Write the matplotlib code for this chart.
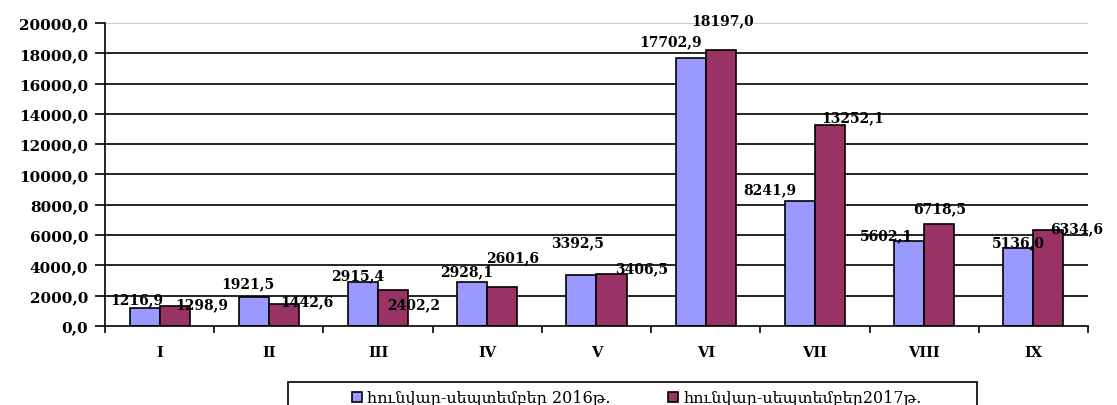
import numpy as np
import matplotlib
matplotlib.use('Agg')
import matplotlib.pyplot as plt
from matplotlib.ticker import FixedLocator, FuncFormatter
from matplotlib.patches import Rectangle

plt.rcParams['font.family'] = ['DejaVu Serif', 'DejaVu Sans']
plt.rcParams['font.weight'] = 'bold'
plt.rcParams['font.size'] = 10

# data
categories = ['I', 'II', 'III', 'IV', 'V', 'VI', 'VII', 'VIII', 'IX']
values_2016 = [1216.9, 1921.5, 2915.4, 2928.1, 3392.5, 17702.9, 8241.9, 5602.1, 5136.0]
values_2017 = [1298.9, 1442.6, 2402.2, 2601.6, 3406.5, 18197.0, 13252.1, 6718.5, 6334.6]
label_2016 = 'հունվար-սեպտեմբեր 2016թ.'
label_2017 = 'հունվար-սեպտեմբեր2017թ.'

# label offsets in pixels (as placed in the original chart)
offs_2016 = [(-8, 8), (-6, 14), (-5, 7), (-6, 10), (-4, 32), (-20, 17), (-30, 12), (-23, 6), (0, 6)]
offs_2017 = [(27, 2), (23, 3), (21, -15), (10, 29), (30, 6), (2, 30), (23, 8), (0, 16), (28, 2)]

blue = '#9999FF'
plum = '#993366'

fig = plt.figure(figsize=(11.17, 4.06), dpi=100)
ax = fig.add_axes([0.094, 0.1946, 0.880, 0.7464])

x = np.arange(len(categories))
w = 0.275
b1 = ax.bar(x - w / 2, values_2016, w, color=blue, edgecolor='black', linewidth=1.2, label=label_2016, zorder=3)
b2 = ax.bar(x + w / 2, values_2017, w, color=plum, edgecolor='black', linewidth=1.2, label=label_2017, zorder=3)

def fmt(v):
    return f'{v:.1f}'.replace('.', ',')

for xi, v, o in zip(x - w / 2, values_2016, offs_2016):
    ax.annotate(fmt(v), (xi, v), xytext=o, textcoords='offset pixels',
                ha='center', va='center', fontsize=10, zorder=5)
for xi, v, o in zip(x + w / 2, values_2017, offs_2017):
    ax.annotate(fmt(v), (xi, v), xytext=o, textcoords='offset pixels',
                ha='center', va='center', fontsize=10, zorder=5, annotation_clip=False)

ax.set_xlim(-0.5, len(categories) - 0.5)
ax.set_ylim(0, 20000)

# gridlines
for yv in range(2000, 20001, 2000):
    ax.axhline(yv, color='#C0C0C0' if yv == 20000 else 'black', linewidth=1.2, zorder=1)

ax.set_yticks(np.arange(0, 20001, 2000))
ax.yaxis.set_major_formatter(FuncFormatter(lambda v, p: fmt(v)))
ax.tick_params(axis='y', direction='out', length=7, width=1.2, labelsize=11, pad=5)

ax.set_xticks(x)
ax.set_xticklabels(categories)
ax.xaxis.set_minor_locator(FixedLocator(np.arange(-0.5, len(categories), 1.0)))
ax.tick_params(axis='x', which='major', length=0, pad=14, labelsize=10.5)
ax.tick_params(axis='x', which='minor', direction='out', length=5, width=1.2)

for s in ['top', 'right']:
    ax.spines[s].set_visible(False)
for s in ['left', 'bottom']:
    ax.spines[s].set_linewidth(1.2)
    ax.spines[s].set_zorder(4)

# legend box (runs past the bottom edge, as in the original)
W, H = 1117.0, 406.0
fig.patches.append(Rectangle((288 / W, -0.05), (977 - 288) / W, 0.05 + (406 - 383) / H,
                             transform=fig.transFigure, fill=False, edgecolor='black',
                             linewidth=1.2))
leg = fig.legend(handles=[b1, b2], loc='center left', ncol=2,
                 bbox_to_anchor=(352 / W, 1 - 399 / H), frameon=False,
                 handlelength=0.6, handleheight=0.6, handletextpad=0.35,
                 columnspacing=3.6, borderpad=0.0, borderaxespad=0.0,
                 prop={'weight': 'normal', 'size': 11.5})

fig.savefig('out.png', dpi=100)
